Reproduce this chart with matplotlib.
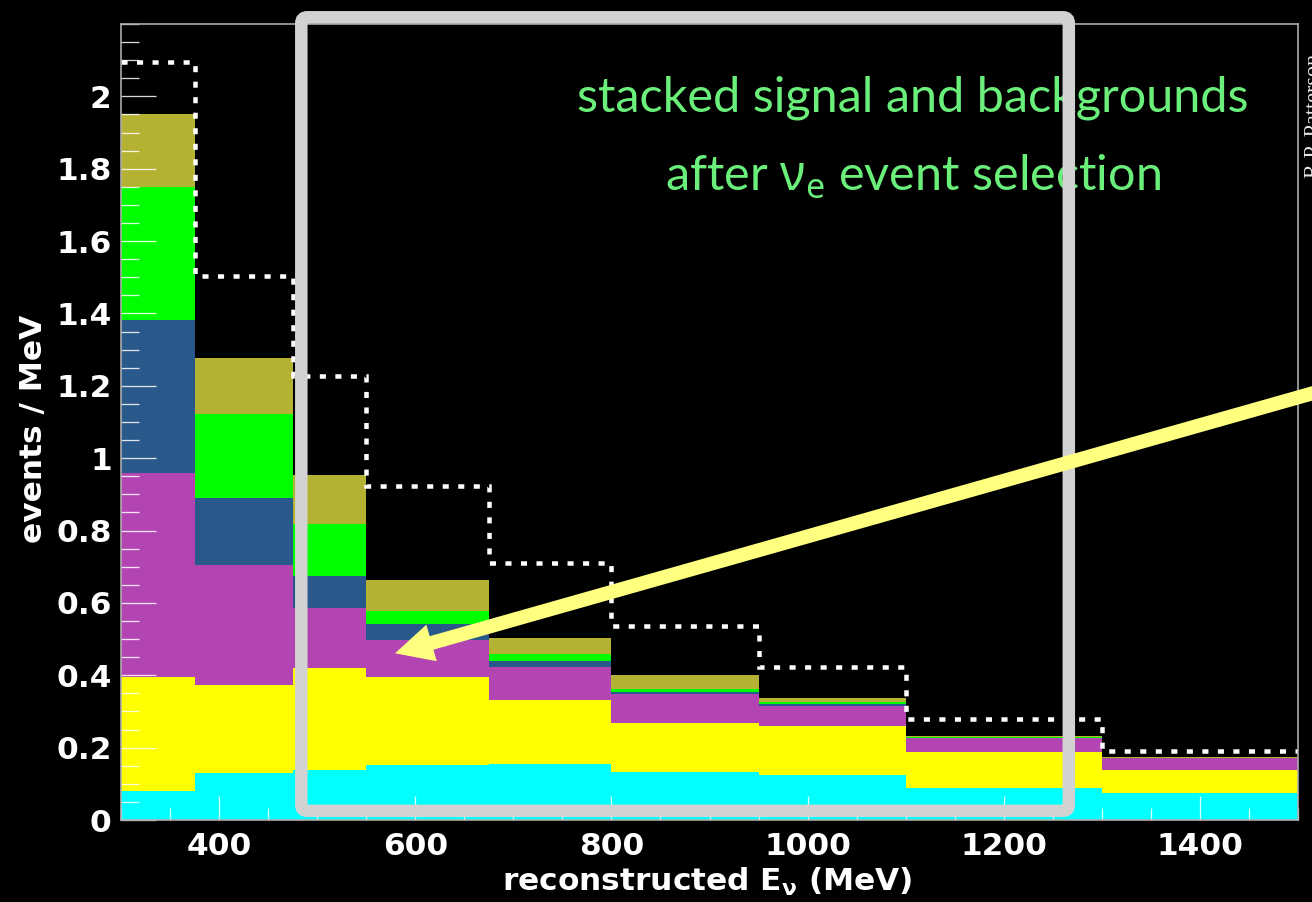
import numpy as np
import matplotlib
matplotlib.use('Agg')
import matplotlib.pyplot as plt
from matplotlib.patches import FancyBboxPatch, FancyArrow
from matplotlib.ticker import MultipleLocator

plt.rcParams.update({
    'font.family': 'DejaVu Sans',
    'mathtext.fontset': 'custom',
    'mathtext.rm': 'Noto Sans',
    'mathtext.it': 'Noto Sans:italic',
    'mathtext.bf': 'Noto Sans:bold',
})

W, H = 1312, 902

# reconstructed E_nu bins (MeV)
bin_edges = [300, 375, 475, 550, 675, 800, 950, 1100, 1300, 1500]

# stacked components (events / MeV), bottom of the stack first
cyan_vals = [0.081, 0.131, 0.138, 0.152, 0.154, 0.132, 0.124, 0.088, 0.075]
yellow_vals = [0.313, 0.241, 0.281, 0.244, 0.177, 0.135, 0.136, 0.101, 0.063]
magenta_vals = [0.565, 0.332, 0.168, 0.101, 0.093, 0.080, 0.056, 0.037, 0.032]
blue_vals = [0.424, 0.185, 0.087, 0.044, 0.015, 0.006, 0.004, 0.002, 0.001]
green_vals = [0.366, 0.233, 0.144, 0.037, 0.021, 0.008, 0.007, 0.002, 0.001]
olive_vals = [0.203, 0.156, 0.135, 0.085, 0.043, 0.041, 0.011, 0.002, 0.001]

# dotted outline
dotted_vals = [2.095, 1.503, 1.227, 0.923, 0.709, 0.537, 0.424, 0.278, 0.191]

layer_colors = ['#00ffff', '#ffff00', '#b345b3', '#29588a', '#00ff00', '#b3b233']

x_ticks = [400, 600, 800, 1000, 1200, 1400]
y_ticks = [0, 0.2, 0.4, 0.6, 0.8, 1.0, 1.2, 1.4, 1.6, 1.8, 2.0]
y_tick_labels = ['0', '0.2', '0.4', '0.6', '0.8', '1', '1.2', '1.4', '1.6', '1.8', '2']

PX = 0.72  # points per pixel at dpi 100

fig = plt.figure(figsize=(W / 100, H / 100), dpi=100, facecolor='black')
ax = fig.add_axes([121 / W, 82 / H, 1177 / W, 796 / H], facecolor='black')

layers = np.array([cyan_vals, yellow_vals, magenta_vals, blue_vals, green_vals, olive_vals])
tops = np.cumsum(layers, axis=0)
bottoms = np.vstack([np.zeros(len(cyan_vals)), tops[:-1]])
for top, bot, c in zip(tops, bottoms, layer_colors):
    ax.stairs(top, bin_edges, baseline=bot, fill=True, color=c, lw=0, zorder=1)

ax.stairs(dotted_vals, bin_edges, baseline=None, color='white', lw=4.5 * PX,
          linestyle=(0, (1.35, 2.1)), zorder=3)

ax.set_xlim(300, 1500)
ax.set_ylim(0, 2.2)
ax.set_xticks(x_ticks)
ax.set_xticklabels([str(v) for v in x_ticks])
ax.set_yticks(y_ticks)
ax.set_yticklabels(y_tick_labels)
ax.xaxis.set_minor_locator(MultipleLocator(50))
ax.yaxis.set_minor_locator(MultipleLocator(0.05))

tick_col = (1, 1, 1, 0.85)
ax.tick_params(axis='both', which='both', direction='in', color=tick_col,
               width=1.3 * PX, labelcolor='white', labelsize=22.5,
               top=False, right=False)
ax.tick_params(axis='y', which='major', length=35 * PX, pad=6.7)
ax.tick_params(axis='y', which='minor', length=18 * PX)
ax.tick_params(axis='x', which='major', length=24 * PX, pad=8.5)
ax.tick_params(axis='x', which='minor', length=12 * PX)
for lab in ax.get_xticklabels() + ax.get_yticklabels():
    lab.set_fontweight('bold')

for sp in ax.spines.values():
    sp.set_color('#b0b0b0')
    sp.set_linewidth(1.6 * PX)
    sp.set_zorder(4)

ax.set_xlabel(r'reconstructed E$_{\mathbf{\nu}}$ (MeV)', color='white',
              fontsize=22.5, fontweight='bold', math_fontfamily='dejavusans')
ax.xaxis.set_label_coords((707 - 121) / 1177, -(866 - 820) / 796)
ax.text((33.5 - 121) / 1177, (820 - 429) / 796, 'events / MeV',
        transform=ax.transAxes, rotation=90, ha='center', va='center',
        fontsize=22.5, fontweight='bold', color='white')

# slide annotations in pixel coordinates
ov = fig.add_axes([0, 0, 1, 1])
ov.set_xlim(0, W)
ov.set_ylim(H, 0)
ov.axis('off')
ov.patch.set_visible(False)
ov.set_zorder(5)

txt_col = '#6aef7a'
ov.text(913, 112, 'stacked signal and backgrounds', color=txt_col,
        family='Lato', fontsize=35, ha='center', va='baseline', zorder=1)
ov.text(913, 190, r'after $\mathrm{\nu}_{\mathrm{e}}$ event selection', color=txt_col,
        family='Lato', fontsize=35, ha='center', va='baseline', zorder=1)

box = FancyBboxPatch((301.3, 17.3), 767.5, 793.5,
                     boxstyle='round,pad=0,rounding_size=6',
                     fill=False, ec='#d2d2d2', lw=12.5 * PX, zorder=2)
ov.add_patch(box)

tail = (1340, 385.5)
tip = (395, 653.3)
arrow = FancyArrow(tail[0], tail[1], tip[0] - tail[0], tip[1] - tail[1],
                   width=14, head_width=38, head_length=38,
                   length_includes_head=True, color='#ffff80', lw=0, zorder=3)
ov.add_patch(arrow)

ov.text(1305, 116, 'R.P. Patterson', rotation=90, family='Liberation Serif',
        fontsize=16, color='#e6e6e6', ha='left', va='center', zorder=1)

fig.savefig('out.png', dpi=100, facecolor='black')
